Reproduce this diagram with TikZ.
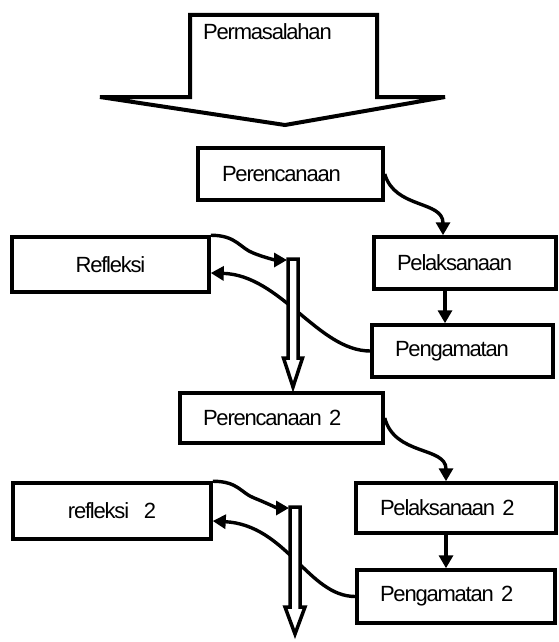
\documentclass[tikz,border=0pt]{standalone}
\usepackage{fontspec}
\setmainfont{Liberation Sans}[LetterSpace=-5.5, WordSpace=0.4]
\usetikzlibrary{arrows.meta,calc}
\begin{document}
\begin{tikzpicture}[x=1pt,y=-1pt,
  every node/.style={font=\fontsize{22}{26}\selectfont},
  box/.style={draw, line width=3.5pt, rectangle, inner ysep=0pt, align=left},
  cbox/.style={draw, line width=3.5pt, rectangle, inner ysep=0pt, align=center},
  conn/.style={line width=3.4pt, -{Triangle[length=13pt,width=14pt]}},
  blockarrow/.style={draw, line width=3.5pt, fill=white, line join=miter}]
\useasboundingbox (0,0) rectangle (558,642);

% big arrow
\draw[line width=4pt, line join=miter] (190,15) -- (377,15) -- (377,97) -- (445,97) -- (285,125) -- (100,97) -- (190,97) -- cycle;
\node[anchor=base west, inner sep=0pt] (title) at (203,40) {Permasalahan};

% boxes
\node[box, minimum width=185pt, minimum height=52pt, text width=137pt, inner xsep=24pt] (perenc) at (290.5,174) {Perencanaan};
\node[box, minimum width=182pt, minimum height=52pt, text width=136pt, inner xsep=23pt] (pelak) at (465,263) {Pelaksanaan};
\node[box, minimum width=181pt, minimum height=52pt, text width=135pt, inner xsep=23pt] (penga) at (462.5,351) {Pengamatan};
\node[cbox, minimum width=197pt, minimum height=55pt, text width=177pt, inner xsep=10pt] (refl) at (110.5,264.5) {Refleksi};

\node[box, minimum width=203pt, minimum height=50pt, text width=157pt, inner xsep=23pt] (perenc2) at (281.5,418) {Perencanaan 2};
\node[box, minimum width=200pt, minimum height=50pt, text width=152pt, inner xsep=24pt] (pelak2) at (456,508) {Pelaksanaan 2};
\node[box, minimum width=198pt, minimum height=53pt, text width=152pt, inner xsep=23pt] (penga2) at (456,596.5) {Pengamatan 2};
\node[cbox, minimum width=198pt, minimum height=56pt, text width=178pt, inner xsep=10pt] (refl2) at (112,511) {refleksi~~2};

\coordinate (s1) at (293,259);
\coordinate (s2) at (295,507);

% cycle 1 connectors
\draw[conn] (perenc.east) .. controls +(10,35) and +(0,-35) .. ([xshift=-22pt]pelak.north);
\draw[conn] ([xshift=-20pt]pelak.south) -- ([xshift=-20pt]pelak.south |- penga.north);
\draw[conn] (refl.north east) .. controls +(26,0) and +(-14,-5) .. ($(refl.north east)+(43,18)$)
  .. controls +(10,4) and +(-12,0) .. ([shift={(-6,1)}]s1);
\draw[conn] (penga.west) .. controls +(-52,0) and +(70,2) .. ([yshift=-8.5pt]refl.east);

% cycle 2 connectors
\draw[conn] (perenc2.east) .. controls +(10,38) and +(0,-35) .. ([xshift=-10pt]pelak2.north);
\draw[conn] ([xshift=-10pt]pelak2.south) -- ([xshift=-10pt]pelak2.south |- penga2.north);
\draw[conn] (refl2.north east) .. controls +(26,0) and +(-14,-5) .. ($(refl2.north east)+(42,17)$)
  .. controls +(10,4) and +(-12,0) .. ([shift={(-6,1)}]s2);
\draw[conn] (penga2.west) .. controls +(-47,0) and +(74,4) .. ([yshift=-10pt]refl2.east);

% double block arrows
\draw[blockarrow] (s1) ++(-5,0) -- ++(10,0) -- ++(0,99) -- ++(4.5,0) -- ($(s1)+(0,128)$) -- ($(s1)+(-9.5,99)$) -- ($(s1)+(-5,99)$) -- cycle;
\draw[blockarrow] (s2) ++(-5,0) -- ++(10,0) -- ++(0,100) -- ++(5,0) -- ($(s2)+(0,127)$) -- ($(s2)+(-10,100)$) -- ($(s2)+(-5,100)$) -- cycle;
\end{tikzpicture}
\end{document}
